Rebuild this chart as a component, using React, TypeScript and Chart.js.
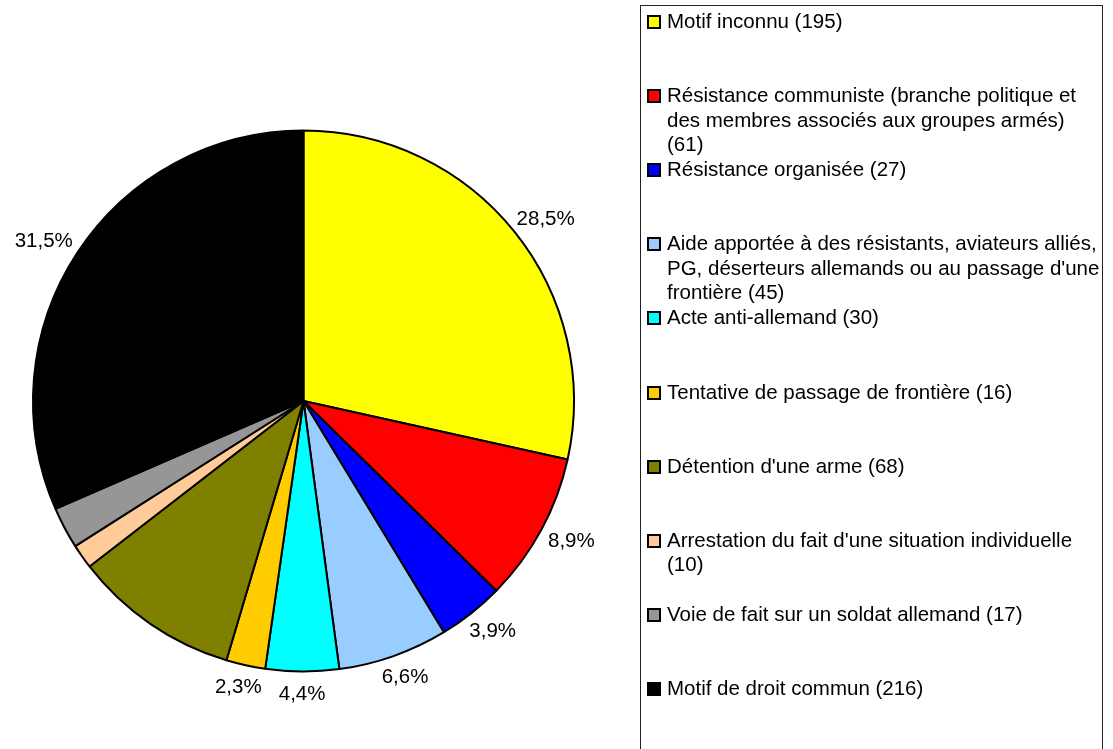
import React, { useEffect, useRef } from "react";
import { Chart, registerables } from "chart.js";

Chart.register(...registerables);

const categories = [
  "Motif inconnu (195)",
  "Résistance communiste (branche politique et des membres associés aux groupes armés) (61)",
  "Résistance organisée (27)",
  "Aide apportée à des résistants, aviateurs alliés, PG, déserteurs allemands ou au passage d'une frontière (45)",
  "Acte anti-allemand (30)",
  "Tentative de passage de frontière (16)",
  "Détention d'une arme (68)",
  "Arrestation du fait d'une situation individuelle (10)",
  "Voie de fait sur un soldat allemand (17)",
  "Motif de droit commun (216)",
];
const values = [195, 61, 27, 45, 30, 16, 68, 10, 17, 216];
const colors = [
  "#FFFF00",
  "#FF0000",
  "#0000FF",
  "#99CCFF",
  "#00FFFF",
  "#FFCC00",
  "#808000",
  "#FFCC99",
  "#969696",
  "#000000",
];
const showLabel = [true, true, true, true, true, true, false, false, false, true];

const FONT = '"Liberation Sans", Arial, sans-serif';

const labelPlugin = {
  id: "outerLabels",
  afterDatasetsDraw(chart: any) {
    const ctx = chart.ctx;
    const meta = chart.getDatasetMeta(0);
    const total = values.reduce((a, b) => a + b, 0);
    ctx.save();
    ctx.font = `20.5px ${FONT}`;
    ctx.fillStyle = "#000";
    ctx.textAlign = "center";
    ctx.textBaseline = "middle";
    meta.data.forEach((arc: any, i: number) => {
      if (!showLabel[i]) return;
      const p = arc.getProps(["x", "y", "startAngle", "endAngle", "outerRadius"], true);
      const mid = (p.startAngle + p.endAngle) / 2;
      const dx = Math.cos(mid);
      const dy = Math.sin(mid);
      const txt = ((values[i] / total) * 100).toFixed(1).replace(".", ",") + "%";
      const w = ctx.measureText(txt).width;
      const halfW = w / 2;
      const halfH = 11;
      const d = p.outerRadius + 11;
      const x = p.x + dx * d + dx * halfW;
      const y = p.y + dy * d + dy * halfH + 1;
      ctx.fillText(txt, x, y);
    });
    ctx.restore();
  },
};

export default function App() {
  const ref = useRef<HTMLCanvasElement | null>(null);
  useEffect(() => {
    document.body.style.margin = "0";
    if (!ref.current) return;
    const chart = new Chart(ref.current, {
      type: "pie",
      data: {
        labels: categories,
        datasets: [
          {
            data: values,
            backgroundColor: colors,
            borderColor: "#000",
            borderWidth: 2,
          },
        ],
      },
      options: {
        animation: false,
        responsive: false,
        maintainAspectRatio: false,
        layout: { padding: { left: 32, right: 538, top: 129, bottom: 76 } },
        plugins: {
          legend: { display: false },
          tooltip: { enabled: false },
        },
      },
      plugins: [labelPlugin],
    });
    return () => chart.destroy();
  }, []);

  const slotTop = 9;
  const slot = 74.1;

  return (
    <div style={{ position: "fixed", left: 0, top: 0, width: 1113, height: 749, background: "#fff", overflow: "hidden" }}>
      <canvas ref={ref} width={1113} height={749} style={{ position: "absolute", left: 0, top: 0 }} />
      <div
        style={{
          position: "absolute",
          left: 640,
          top: 5,
          width: 463,
          height: 760,
          border: "1.5px solid #222",
          boxSizing: "border-box",
        }}
      />
      {categories.map((c, i) => (
        <div
          key={i}
          style={{
            position: "absolute",
            left: 647,
            top: slotTop + i * slot,
            width: 460,
            fontFamily: FONT,
            fontSize: 20.5,
            lineHeight: "24.5px",
            color: "#000",
            display: "flex",
          }}
        >
          <div
            style={{
              width: 14,
              height: 14,
              marginTop: 6,
              border: "2px solid #000",
              boxSizing: "border-box",
              background: colors[i],
              flex: "0 0 auto",
              marginRight: 6,
            }}
          />
          <div style={{ width: 436 }}>{c}</div>
        </div>
      ))}
    </div>
  );
}
